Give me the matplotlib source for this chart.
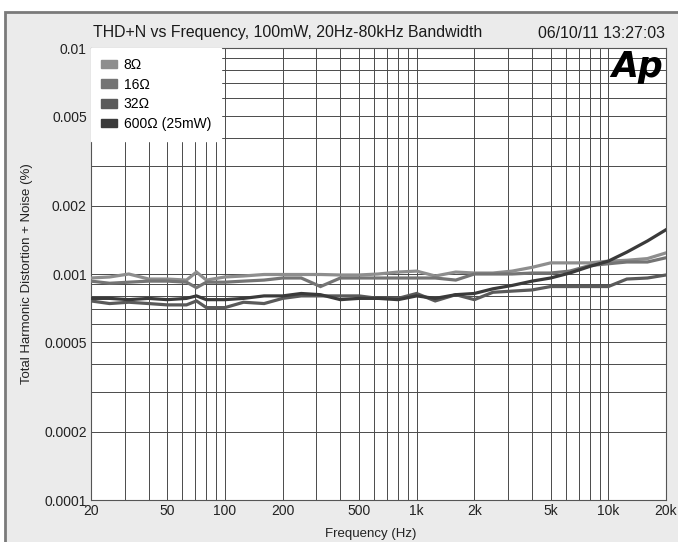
import matplotlib
matplotlib.use("Agg")
import matplotlib.pyplot as plt
from matplotlib.patches import Patch, Rectangle
from matplotlib.ticker import FixedLocator, LogLocator, NullFormatter
import numpy as np

plt.rcParams["font.family"] = ["Liberation Sans", "DejaVu Sans"]

freq = [20, 25, 31.5, 40, 50, 63, 71, 80, 100, 125, 160, 200, 250, 315, 400, 500,
        630, 800, 1000, 1250, 1600, 2000, 2500, 3150, 4000, 5000, 6300, 8000,
        10000, 12500, 16000, 20000]

thd_8 = [0.00096, 0.00097, 0.00100, 0.00095, 0.00095, 0.00094, 0.00102, 0.00094,
         0.00097, 0.00098, 0.000995, 0.000995, 0.000995, 0.000995, 0.00099, 0.00099,
         0.00100, 0.00102, 0.00103, 0.00098, 0.00102, 0.00101, 0.00101, 0.00103,
         0.00107, 0.00112, 0.00112, 0.00112, 0.00114, 0.00115, 0.00117, 0.00124]

thd_16 = [0.00093, 0.00091, 0.00092, 0.00093, 0.00093, 0.00092, 0.00087, 0.00092,
          0.00092, 0.00093, 0.00094, 0.00096, 0.00096, 0.00088, 0.00096, 0.00096,
          0.00096, 0.00096, 0.00096, 0.00096, 0.00094, 0.00100, 0.00100, 0.00100,
          0.00101, 0.00101, 0.00103, 0.00109, 0.00111, 0.00113, 0.00113, 0.00118]

thd_32 = [0.00076, 0.00074, 0.00075, 0.00074, 0.00073, 0.00073, 0.00076, 0.00071,
          0.00071, 0.00075, 0.00074, 0.00078, 0.00080, 0.00080, 0.00080, 0.00080,
          0.00078, 0.00078, 0.00082, 0.00076, 0.00081, 0.00077, 0.00083, 0.00084,
          0.00085, 0.00088, 0.00088, 0.00088, 0.00088, 0.00095, 0.00096, 0.00099]

thd_600 = [0.00078, 0.00078, 0.00077, 0.00078, 0.00077, 0.00078, 0.00080, 0.00077,
           0.00077, 0.00078, 0.00080, 0.00080, 0.00082, 0.00081, 0.00077, 0.00078,
           0.00078, 0.00077, 0.00080, 0.00078, 0.00081, 0.00082, 0.00086, 0.00089,
           0.00093, 0.00096, 0.00101, 0.00108, 0.00114, 0.00125, 0.00140, 0.00157]

labels = ["8\u03a9", "16\u03a9", "32\u03a9", "600\u03a9 (25mW)"]
colors = ["#8e8e8e", "#747474", "#5a5a5a", "#3a3a3a"]

xticks = [20, 50, 100, 200, 500, 1000, 2000, 5000, 10000, 20000]
xticklabels = ["20", "50", "100", "200", "500", "1k", "2k", "5k", "10k", "20k"]
yticks = [0.0001, 0.0002, 0.0005, 0.001, 0.002, 0.005, 0.01]
yticklabels = ["0.0001", "0.0002", "0.0005", "0.001", "0.002", "0.005", "0.01"]


def main():
    fig = plt.figure(figsize=(6.78, 5.42), dpi=100, facecolor="white")
    # scanned page frame, kept behind the axes
    frame = Rectangle((5 / 678, -0.01), 1.0, 1 - 12 / 542 + 0.01,
                      transform=fig.transFigure, facecolor="#ebebeb",
                      edgecolor="#7a7a7a", linewidth=2, zorder=-10)
    fig.add_artist(frame)

    ax = fig.add_axes([91 / 678, 1 - 500 / 542, 575 / 678, 452 / 542])
    ax.set_facecolor("white")

    series = [thd_8, thd_16, thd_32, thd_600]
    for s, c in zip(series, colors):
        ax.plot(freq, s, color=c, linewidth=2.3, solid_joinstyle="miter", zorder=3)

    ax.set_xscale("log")
    ax.set_yscale("log")
    ax.set_xlim(20, 20000)
    ax.set_ylim(0.0001, 0.01)

    ax.xaxis.set_major_locator(FixedLocator(xticks))
    ax.set_xticklabels(xticklabels)
    ax.xaxis.set_minor_locator(LogLocator(base=10, subs=np.arange(1, 10)))
    ax.xaxis.set_minor_formatter(NullFormatter())
    ax.yaxis.set_major_locator(FixedLocator(yticks))
    ax.set_yticklabels(yticklabels)
    ax.yaxis.set_minor_locator(LogLocator(base=10, subs=np.arange(1, 10)))
    ax.yaxis.set_minor_formatter(NullFormatter())

    ax.grid(True, which="both", color="#4a4a4a", linewidth=0.7)
    ax.set_axisbelow(True)
    ax.tick_params(which="both", length=0, labelsize=10, colors="#222222", pad=3)
    for sp in ax.spines.values():
        sp.set_color("#555555")
        sp.set_linewidth(0.8)

    ax.set_xlabel("Frequency (Hz)", fontsize=9.5, color="#222222")
    ax.xaxis.set_label_coords(0.486, -0.062)
    ax.set_ylabel("Total Harmonic Distortion + Noise (%)", fontsize=9.5,
                  color="#222222", labelpad=8)

    fig.text(93 / 678, 1 - 33 / 542, "THD+N vs Frequency, 100mW, 20Hz-80kHz Bandwidth",
             fontsize=11.45, color="#1a1a1a", va="center", ha="left")
    fig.text(665 / 678, 1 - 33 / 542, "06/10/11 13:27:03", fontsize=11.45,
             color="#1a1a1a", va="center", ha="right")
    ax.text(0.995, 0.995, "Ap", transform=ax.transAxes, fontsize=25,
            family="DejaVu Sans", fontweight="bold", style="italic",
            ha="right", va="top", color="black", zorder=5)

    handles = [Patch(facecolor=c, edgecolor=c) for c in colors]
    leg = ax.legend(handles, labels, loc="upper left", fontsize=10, frameon=True,
                    fancybox=False, handlelength=1.2, handleheight=0.55,
                    handletextpad=0.45, labelspacing=0.42, borderpad=0.7,
                    borderaxespad=0.0)
    leg.get_frame().set_facecolor("white")
    leg.get_frame().set_edgecolor("white")
    leg.get_frame().set_alpha(1.0)
    leg.set_zorder(4)

    fig.savefig("out.png", dpi=100, facecolor=fig.get_facecolor())


if __name__ == "__main__":
    main()
